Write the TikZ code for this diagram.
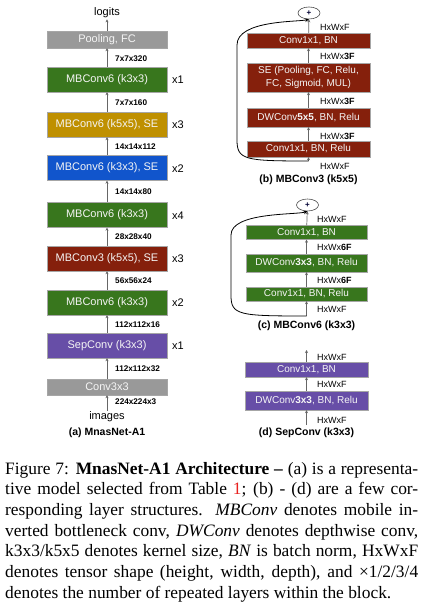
\documentclass[tikz,border=0pt]{standalone}
\usepackage{fontspec}
\setmainfont{Liberation Serif}
\setsansfont{Liberation Sans}
\usetikzlibrary{arrows.meta,shapes.geometric}

\definecolor{mbgreen}{HTML}{38761D}
\definecolor{mbgold}{HTML}{BF9000}
\definecolor{mbblue}{HTML}{1155CC}
\definecolor{mbred}{HTML}{85200C}
\definecolor{mbpurple}{HTML}{674EA7}
\definecolor{mbgrey}{HTML}{999999}
\definecolor{tabred}{HTML}{E8201E}

\tikzset{
  layer/.style={draw=black!35, line width=0.4pt, minimum width=120pt, minimum height=25pt,
    inner sep=0pt, text=black!4, align=center, font=\sffamily\fontsize{11}{12}\selectfont},
  op/.style={layer, minimum width=123pt, font=\sffamily\fontsize{10}{12.5}\selectfont},
  dimlbl/.style={anchor=west, inner sep=0pt, font=\sffamily\bfseries\fontsize{8.2}{9}\selectfont},
  hwlbl/.style={anchor=west, inner sep=0pt, font=\sffamily\fontsize{9}{10}\selectfont},
  rep/.style={anchor=west, inner sep=0pt, font=\sffamily\fontsize{11}{12}\selectfont},
  sub/.style={inner sep=0pt, font=\sffamily\bfseries\fontsize{10.5}{12}\selectfont},
  flow/.style={draw=black!60, line width=0.7pt, -{Stealth[length=3pt,width=3pt]}},
  skip/.style={draw=black, line width=0.8pt, -{Stealth[length=4pt,width=3.5pt]}},
  addop/.style={ellipse, draw=black!70, line width=0.6pt, minimum width=22pt, minimum height=12pt,
    inner sep=0pt, text=black!80!blue, font=\sffamily\bfseries\fontsize{8}{8}\selectfont}
}

\begin{document}
\begin{tikzpicture}[x=1pt,y=-1pt]
  %%%%% FRAME %%%%%
  \fill[white] (0,0) rectangle (424,609);
  \useasboundingbox (0,0) rectangle (424,609);

  %%%%% (a) MnasNet-A1 %%%%%
  \node[inner sep=1pt, font=\sffamily\fontsize{11}{12}\selectfont] (logits) at (107,13) {logits};
  \node[layer, fill=mbgrey, minimum height=17pt] (pool) at (107,39.5) {Pooling, FC};
  \node[layer, fill=mbgreen] (s7) at (107,79.5) {MBConv6 (k3x3)};
  \node[layer, fill=mbgold] (s6) at (107,124.5) {MBConv6 (k5x5), SE};
  \node[layer, fill=mbblue] (s5) at (107,168) {MBConv6 (k3x3), SE};
  \node[layer, fill=mbgreen] (s4) at (107,215) {MBConv6 (k3x3)};
  \node[layer, fill=mbred] (s3) at (107,258.5) {MBConv3 (k5x5), SE};
  \node[layer, fill=mbgreen] (s2) at (107,302.5) {MBConv6 (k3x3)};
  \node[layer, fill=mbpurple] (s1) at (107,345.5) {SepConv (k3x3)};
  \node[layer, fill=mbgrey, minimum height=16pt] (stem) at (107,387) {Conv3x3};
  \node[inner sep=1pt, font=\sffamily\fontsize{11}{12}\selectfont] (images) at (107,417) {images};
  \node[sub] (capa) at (107,433) {(a) MnasNet-A1};

  \draw[flow] (images) -- (stem);
  \draw[flow] (stem) -- (s1);
  \draw[flow] (s1) -- (s2);
  \draw[flow] (s2) -- (s3);
  \draw[flow] (s3) -- (s4);
  \draw[flow] (s4) -- (s5);
  \draw[flow] (s5) -- (s6);
  \draw[flow] (s6) -- (s7);
  \draw[flow] (s7) -- (pool);
  \draw[flow] (pool) -- (logits);

  \node[dimlbl] at (115,59) {7x7x320};
  \node[dimlbl] at (115,103) {7x7x160};
  \node[dimlbl] at (115,147) {14x14x112};
  \node[dimlbl] at (115,192) {14x14x80};
  \node[dimlbl] at (115,237) {28x28x40};
  \node[dimlbl] at (115,281) {56x56x24};
  \node[dimlbl] at (115,325) {112x112x16};
  \node[dimlbl] at (115,369) {112x112x32};
  \node[dimlbl] at (115,402) {224x224x3};

  \node[rep] at (172,80) {x1};
  \node[rep] at (172,125) {x3};
  \node[rep] at (172,169) {x2};
  \node[rep] at (172,216) {x4};
  \node[rep] at (172,259) {x3};
  \node[rep] at (172,303) {x2};
  \node[rep] at (172,346) {x1};

  %%%%% (b) MBConv3 (k5x5) %%%%%
  \node[addop] (addb) at (309,13) {+};
  \node[op, fill=mbred, minimum height=15pt] (b4) at (308.5,40.5) {Conv1x1, BN};
  \node[op, fill=mbred, minimum height=29pt] (b3) at (308.5,77.5) {SE (Pooling, FC, Relu,\\FC, Sigmoid, MUL)};
  \node[op, fill=mbred, minimum height=19pt] (b2) at (308.5,117.5) {DWConv\textbf{5x5}, BN, Relu};
  \node[op, fill=mbred, minimum height=16pt] (b1) at (308.5,149) {Conv1x1, BN, Relu};
  \coordinate (inb) at (308.5,161);
  \node[sub] (capb) at (308.5,180) {(b) MBConv3 (k5x5)};

  \draw[flow] (inb) -- (b1);
  \draw[flow] (b1) -- (b2);
  \draw[flow] (b2) -- (b3);
  \draw[flow] (b3) -- (b4);
  \draw[flow] (b4) -- (addb);
  \draw[skip] (inb) .. controls (245,161) and (237,160) .. (237,140) -- (237,45)
    .. controls (237,20) and (298,22) .. (addb.south);

  \node[hwlbl] at (320,27) {HxWxF};
  \node[hwlbl] at (320,56) {HxWx\textbf{3F}};
  \node[hwlbl] at (320,101) {HxWx\textbf{3F}};
  \node[hwlbl] at (320,136) {HxWx\textbf{3F}};
  \node[hwlbl] at (320,166) {HxWxF};

  %%%%% (c) MBConv6 (k3x3) %%%%%
  \node[addop] (addc) at (307.5,205) {+};
  \node[op, fill=mbgreen, minimum width=121pt, minimum height=14pt] (c3) at (306.5,232.5) {Conv1x1, BN};
  \node[op, fill=mbgreen, minimum width=121pt, minimum height=18pt] (c2) at (306.5,263) {DWConv\textbf{3x3}, BN, Relu};
  \node[op, fill=mbgreen, minimum width=121pt, minimum height=14pt] (c1) at (306.5,294) {Conv1x1, BN, Relu};
  \coordinate (inc) at (306.5,316);
  \node[sub] (capc) at (306.5,326) {(c) MBConv6 (k3x3)};

  \draw[flow] (inc) -- (c1);
  \draw[flow] (c1) -- (c2);
  \draw[flow] (c2) -- (c3);
  \draw[flow] (c3) -- (addc);
  \draw[skip] (inc) .. controls (238,316) and (231,315) .. (231,295) -- (231,235)
    .. controls (231,212) and (296,215) .. (addc.south);

  \node[hwlbl] at (317,219) {HxWxF};
  \node[hwlbl] at (317,247) {HxWx\textbf{6F}};
  \node[hwlbl] at (317,280) {HxWx\textbf{6F}};
  \node[hwlbl] at (317,309) {HxWxF};

  %%%%% (d) SepConv (k3x3) %%%%%
  \coordinate (outd) at (306.5,350);
  \node[op, fill=mbpurple, minimum height=15pt] (d2) at (306.5,369.5) {Conv1x1, BN};
  \node[op, fill=mbpurple, minimum height=19pt] (d1) at (306.5,400.5) {DWConv\textbf{3x3}, BN, Relu};
  \coordinate (ind) at (306.5,425);
  \node[sub] (capd) at (306.5,433) {(d) SepConv (k3x3)};

  \draw[flow] (ind) -- (d1);
  \draw[flow] (d1) -- (d2);
  \draw[flow] (d2) -- (outd);

  \node[hwlbl] at (317,357) {HxWxF};
  \node[hwlbl] at (317,384) {HxWxF};
  \node[hwlbl] at (317,420) {HxWxF};

  %%%%% CAPTION %%%%%
  \node[anchor=base west, inner sep=0pt, text width=413pt, align=justify,
        font=\rmfamily\fontsize{17.4}{20.67}\selectfont] (caption) at (5,474)
  {\hyphenpenalty=10000 Figure 7: \textbf{MnasNet-A1 Architecture --} (a) is a representa-\linebreak
   tive model selected from Table~\textcolor{tabred}{1}; (b) - (d) are a few cor-\linebreak
   responding layer structures. \textit{MBConv} denotes mobile in-\linebreak
   verted bottleneck conv, \textit{DWConv} denotes depthwise conv,\linebreak
   k3x3/k5x5 denotes kernel size, \textit{BN} is batch norm, HxWxF\linebreak
   denotes tensor shape (height, width, depth), and ×1/2/3/4\linebreak
   denotes the number of repeated layers within the block.\par};
\end{tikzpicture}
\end{document}
